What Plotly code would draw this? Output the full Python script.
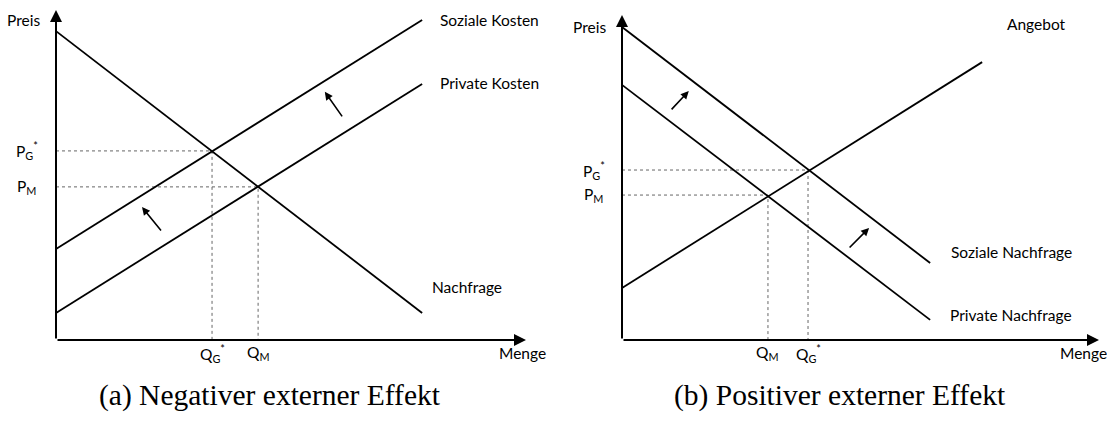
import plotly.graph_objects as go

# Linkes Diagramm: negativer externer Effekt (Achseneinheiten 0..10)
neg_nachfrage_q = [0, 7.79]
neg_nachfrage_p = [9.36, 0.82]
neg_sozial_q = [0, 7.79]
neg_sozial_p = [2.76, 9.70]
neg_privat_q = [0, 7.79]
neg_privat_p = [0.82, 7.76]
neg_gg_q = [3.32, 4.30]   # Q_G*, Q_M
neg_gg_p = [5.73, 4.64]   # P_G*, P_M

# Rechtes Diagramm: positiver externer Effekt
pos_sozial_q = [0, 6.46]
pos_sozial_p = [9.63, 2.37]
pos_privat_q = [0, 6.46]
pos_privat_p = [7.85, 0.62]
pos_angebot_q = [0, 7.55]
pos_angebot_p = [1.60, 8.55]
pos_gg_q = [3.06, 3.90]   # Q_M, Q_G*
pos_gg_p = [4.46, 5.23]   # P_M, P_G*

W, H = 1107, 421
LABEL_FONT = dict(family="Lato, Open Sans, sans-serif", size=15.5, color="black")
CAPTION_FONT = dict(family="Liberation Serif, DejaVu Serif, serif", size=29.5, color="black")


def axis_box(ox, oy, sx, sy, left, right, top, bottom):
    # Ursprung (ox, oy) in Pixeln, sx/sy Pixel je Einheit
    xd = [left / W, right / W]
    yd = [1 - bottom / H, 1 - top / H]
    xr = [(left - ox) / sx, (right - ox) / sx]
    yr = [(oy - bottom) / sy, (oy - top) / sy]
    return xd, xr, yd, yr


l_xd, l_xr, l_yd, l_yr = axis_box(56, 340, 47, 33, 0, 560, 0, 375)
r_xd, r_xr, r_yd, r_yr = axis_box(622, 340, 47.7, 32.5, 562, 1107, 0, 375)

fig = go.Figure()


def add_line(q, p, xa, ya):
    fig.add_trace(go.Scatter(x=q, y=p, mode="lines", xaxis=xa, yaxis=ya,
                             line=dict(color="black", width=1.8),
                             hoverinfo="skip", showlegend=False))


def add_guides(q, p, xa, ya):
    for qi, pi in zip(q, p):
        fig.add_trace(go.Scatter(x=[0, qi, qi], y=[pi, pi, 0], mode="lines",
                                 xaxis=xa, yaxis=ya,
                                 line=dict(color="#666", width=1, dash="dot"),
                                 hoverinfo="skip", showlegend=False))


add_guides(neg_gg_q, neg_gg_p, "x", "y")
add_line(neg_nachfrage_q, neg_nachfrage_p, "x", "y")
add_line(neg_sozial_q, neg_sozial_p, "x", "y")
add_line(neg_privat_q, neg_privat_p, "x", "y")

add_guides(pos_gg_q, pos_gg_p, "x2", "y2")
add_line(pos_sozial_q, pos_sozial_p, "x2", "y2")
add_line(pos_privat_q, pos_privat_p, "x2", "y2")
add_line(pos_angebot_q, pos_angebot_p, "x2", "y2")

ann = []


def arrow(xr, yr, x0, y0, x1, y1, width=1.6, size=1.0):
    ann.append(dict(xref=xr, yref=yr, axref=xr, ayref=yr, x=x1, y=y1, ax=x0, ay=y0,
                    text="", showarrow=True, arrowhead=2, arrowsize=size,
                    arrowwidth=width, arrowcolor="black", standoff=0, startstandoff=0))


def label(xr, yr, x, y, text, anchor="left", font=LABEL_FONT):
    ann.append(dict(xref=xr, yref=yr, x=x, y=y, text=text, showarrow=False,
                    xanchor=anchor, yanchor="middle", font=font))


# Achsen mit Pfeilspitzen
arrow("x", "y", 0, 0, 0, 10, width=2, size=1.2)
arrow("x", "y", 0, 0, 10, 0, width=2, size=1.2)
arrow("x2", "y2", 0, 0, 0, 10, width=2, size=1.2)
arrow("x2", "y2", 0, 0, 10, 0, width=2, size=1.2)

# Verschiebungspfeile
arrow("x", "y", 2.26, 3.27, 1.83, 4.03)
arrow("x", "y", 6.11, 6.73, 5.72, 7.52)
arrow("x2", "y2", 1.01, 7.05, 1.40, 7.66)
arrow("x2", "y2", 4.74, 2.80, 5.18, 3.45)

# Beschriftungen links
label("x", "y", -0.3, 9.7, "Preis", "right")
label("x", "y", 8.13, 9.7, "Soziale Kosten")
label("x", "y", 8.13, 7.79, "Private Kosten")
label("x", "y", 7.96, 1.6, "Nachfrage")
label("x", "y", -0.33, neg_gg_p[0], "P<sub>G</sub><sup>*</sup>", "right")
label("x", "y", -0.38, neg_gg_p[1], "P<sub>M</sub>", "right")
label("x", "y", neg_gg_q[0], -0.4, "Q<sub>G</sub><sup>*</sup>", "center")
label("x", "y", neg_gg_q[1], -0.4, "Q<sub>M</sub>", "center")
label("x", "y", 9.38, -0.4, "Menge")

# Beschriftungen rechts
label("x2", "y2", -0.29, 9.63, "Preis", "right")
label("x2", "y2", 8.03, 9.72, "Angebot")
label("x2", "y2", 6.86, 2.71, "Soziale Nachfrage")
label("x2", "y2", 6.83, 0.77, "Private Nachfrage")
label("x2", "y2", -0.31, pos_gg_p[1], "P<sub>G</sub><sup>*</sup>", "right")
label("x2", "y2", -0.36, pos_gg_p[0], "P<sub>M</sub>", "right")
label("x2", "y2", pos_gg_q[0], -0.4, "Q<sub>M</sub>", "center")
label("x2", "y2", pos_gg_q[1], -0.4, "Q<sub>G</sub><sup>*</sup>", "center")
label("x2", "y2", 9.14, -0.4, "Menge")

# Bildunterschriften
ann.append(dict(xref="paper", yref="paper", x=270 / W, y=1 - 395 / H,
                text="(a) Negativer externer Effekt", showarrow=False,
                xanchor="center", yanchor="middle", font=CAPTION_FONT))
ann.append(dict(xref="paper", yref="paper", x=840 / W, y=1 - 395 / H,
                text="(b) Positiver externer Effekt", showarrow=False,
                xanchor="center", yanchor="middle", font=CAPTION_FONT))

hidden = dict(visible=False, showgrid=False, zeroline=False, fixedrange=True)
fig.update_layout(
    width=W, height=H,
    margin=dict(l=0, r=0, t=0, b=0),
    paper_bgcolor="white", plot_bgcolor="white",
    xaxis=dict(domain=l_xd, range=l_xr, anchor="y", **hidden),
    yaxis=dict(domain=l_yd, range=l_yr, anchor="x", **hidden),
    xaxis2=dict(domain=r_xd, range=r_xr, anchor="y2", **hidden),
    yaxis2=dict(domain=r_yd, range=r_yr, anchor="x2", **hidden),
    annotations=ann,
    showlegend=False,
)

fig.write_html("out.html", config={"displayModeBar": False},
               post_script="document.body.style.margin='0';")
